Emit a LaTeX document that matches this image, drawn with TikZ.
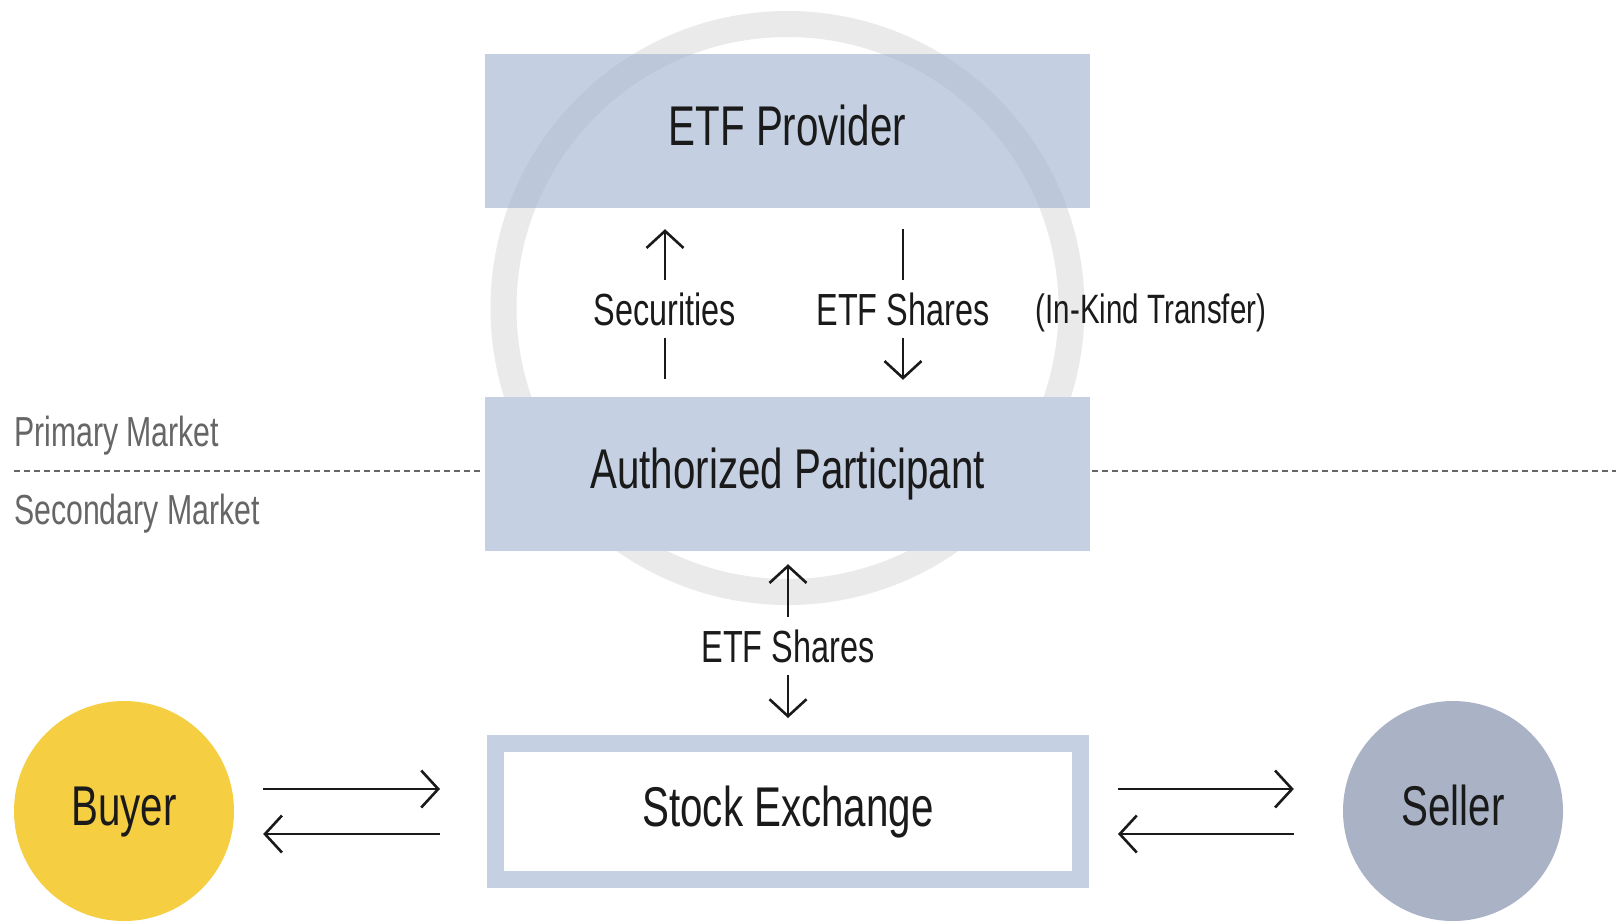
\documentclass[tikz,border=0pt]{standalone}
\usepackage{fontspec}
\setmainfont{Liberation Sans}[FakeStretch=0.72]
\usepackage{tikz}
\usetikzlibrary{arrows.meta}
\definecolor{boxblue}{HTML}{C5D1E2}
\definecolor{boxdeep}{HTML}{9EB2CF}
\definecolor{ringgrey}{HTML}{EAEAEA}
\definecolor{buyergold}{HTML}{F5CE42}
\definecolor{sellergrey}{HTML}{A9B3C5}
\definecolor{inkgrey}{HTML}{1A1A1A}
\definecolor{sidegrey}{HTML}{666666}

\begin{document}
\begin{tikzpicture}[x=1pt,y=-1pt,
    mainbox/.style={rectangle,fill=boxblue,minimum width=605pt,minimum height=154pt,
      inner sep=0pt,text height=40pt,text depth=11pt,font=\fontsize{56}{60}\selectfont},
    party/.style={circle,minimum size=220pt,inner sep=0pt,text height=40pt,
      text depth=11pt,font=\fontsize{56}{60}\selectfont},
    flowlabel/.style={inner xsep=4pt,inner ysep=13pt,text height=32pt,text depth=0pt,
      font=\fontsize{45}{50}\selectfont},
    sidelabel/.style={anchor=west,inner sep=0pt,text=sidegrey,font=\fontsize{42}{46}\selectfont},
    flow/.style={-{Straight Barb[length=17pt,width=37pt]},line width=2.6pt},
    flowline/.style={line width=2.6pt},
    divider/.style={draw=sidegrey,line width=1.6pt,dash pattern=on 6pt off 4pt}]
\useasboundingbox[fill=white] (0,0) rectangle (1616,922);

\coordinate (hub) at (787.5,308);
\draw[ringgrey,line width=26pt] (hub) circle[radius=284];

\begin{scope}[every node/.style={text=inkgrey,text opacity=1}]
  \node[mainbox,fill=boxdeep,fill opacity=0.6] (prov) at (787.5,131) {ETF Provider};
  \node[mainbox] (ap) at (787.5,474) {Authorized Participant};
  \node[mainbox,fill=white,draw=boxblue,line width=17pt,minimum width=585pt,
        minimum height=136pt] (ex) at (788,811.5) {Stock Exchange};
  \node[party,fill=buyergold] (buyer) at (124,811) {Buyer};
  \node[party,fill=sellergrey] (seller) at (1453,811) {Seller};
  \node[flowlabel] (sec) at (665,309) {Securities};
  \node[flowlabel] (etfup) at (903,309) {ETF Shares};
  \node[flowlabel,font=\fontsize{41}{46}\selectfont] (inkind) at (1151,307) {(In-Kind Transfer)};
  \node[flowlabel] (etfx) at (788,646) {ETF Shares};
\end{scope}

\node[sidelabel] (primary) at (14,436) {Primary Market};
\node[sidelabel] (secondary) at (14,514) {Secondary Market};
\coordinate (mktL) at (14,471);
\coordinate (mktR) at (1616,471);
\draw[divider,shorten >=5pt] (mktL) -- (mktL -| ap.west);
\draw[divider,shorten <=2pt] (mktL -| ap.east) -- (mktR);

\begin{scope}[draw=inkgrey]
  \draw[flow,shorten >=21pt] (sec.north) -- (sec.north |- prov.south);
  \draw[flowline,shorten >=18pt] (sec.south) -- (sec.south |- ap.north);
  \draw[flowline,shorten <=21pt] (etfup.north |- prov.south) -- (etfup.north);
  \draw[flow,shorten >=17pt] (etfup.south) -- (etfup.south |- ap.north);
  \draw[flow,shorten >=13pt] (etfx.north) -- (etfx.north |- ap.south);
  \draw[flow,shorten >=17pt] (etfx.south) -- (etfx.south |- ex.north);

  \draw[flow,shorten <=29pt,shorten >=47pt] ([yshift=22pt]buyer.east) -- ([yshift=22pt]buyer.east -| ex.west);
  \draw[flow,shorten <=47pt,shorten >=29pt] ([yshift=-23pt]buyer.east -| ex.west) -- ([yshift=-23pt]buyer.east);
  \draw[flow,shorten <=29pt,shorten >=49pt] ([yshift=22pt]seller.west -| ex.east) -- ([yshift=22pt]seller.west);
  \draw[flow,shorten <=49pt,shorten >=29pt] ([yshift=-23pt]seller.west) -- ([yshift=-23pt]seller.west -| ex.east);
\end{scope}
\end{tikzpicture}
\end{document}
